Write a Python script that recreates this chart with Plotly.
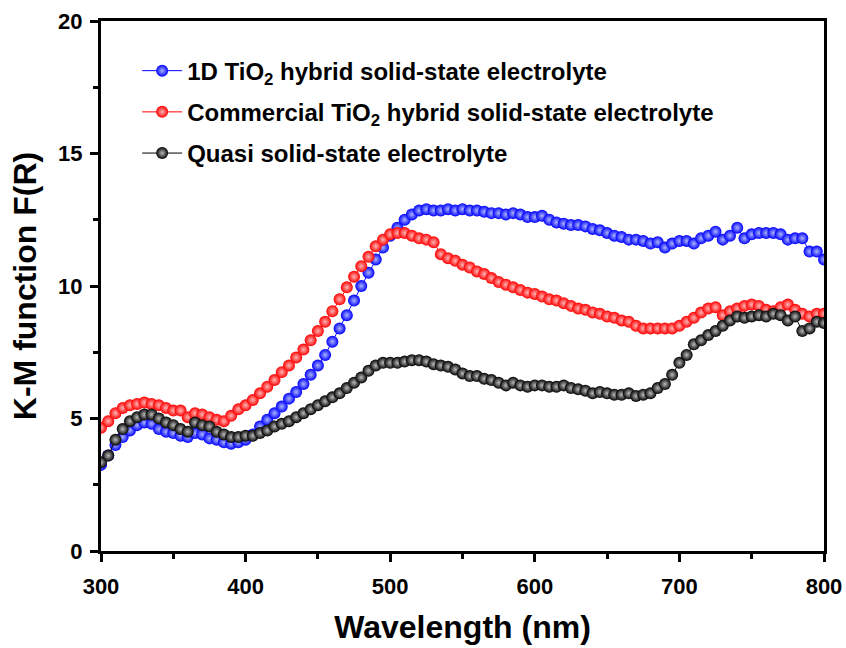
import plotly.graph_objects as go

wavelength = list(range(300, 801, 5))

tio2_1d = [3.25, 3.6, 4.0, 4.3, 4.55, 4.75, 4.85, 4.8, 4.6, 4.5,
           4.45, 4.35, 4.3, 4.45, 4.4, 4.25, 4.2, 4.1, 4.05, 4.1,
           4.2, 4.4, 4.7, 4.95, 5.2, 5.45, 5.75, 6.0, 6.3, 6.65,
           7.0, 7.4, 7.9, 8.4, 8.9, 9.45, 10.0, 10.5, 11.0, 11.45,
           11.9, 12.2, 12.5, 12.7, 12.85, 12.9, 12.85, 12.85, 12.9, 12.85,
           12.9, 12.85, 12.85, 12.8, 12.75, 12.75, 12.7, 12.75, 12.7, 12.6,
           12.6, 12.65, 12.5, 12.4, 12.35, 12.3, 12.3, 12.25, 12.15, 12.1,
           12.0, 11.9, 11.85, 11.75, 11.75, 11.7, 11.6, 11.65, 11.45, 11.6,
           11.7, 11.7, 11.6, 11.8, 11.9, 12.05, 11.75, 11.9, 12.2, 11.8,
           11.95, 12.0, 12.0, 12.0, 11.95, 11.75, 11.8, 11.8, 11.3, 11.3,
           11.0]

commercial = [4.65, 4.9, 5.2, 5.4, 5.5, 5.55, 5.6, 5.55, 5.5, 5.4,
              5.3, 5.3, 5.05, 5.2, 5.15, 5.05, 4.95, 4.9, 5.1, 5.35,
              5.5, 5.7, 5.95, 6.2, 6.45, 6.75, 7.0, 7.3, 7.6, 7.95,
              8.3, 8.65, 9.05, 9.5, 9.95, 10.35, 10.75, 11.1, 11.5, 11.75,
              11.95, 12.0, 12.0, 11.9, 11.8, 11.75, 11.65, 11.2, 11.05, 10.95,
              10.8, 10.7, 10.55, 10.45, 10.3, 10.15, 10.05, 9.95, 9.85, 9.75,
              9.7, 9.6, 9.5, 9.45, 9.35, 9.25, 9.15, 9.1, 9.0, 8.95,
              8.85, 8.8, 8.7, 8.65, 8.5, 8.4, 8.4, 8.4, 8.4, 8.4,
              8.5, 8.65, 8.8, 9.0, 9.15, 9.2, 8.9, 9.05, 9.15, 9.25,
              9.3, 9.25, 9.1, 9.05, 9.2, 9.3, 9.1, 8.95, 8.85, 8.95,
              8.95]

quasi = [3.35, 3.6, 4.2, 4.6, 4.9, 5.05, 5.15, 5.15, 5.0, 4.85,
         4.75, 4.6, 4.5, 4.85, 4.75, 4.7, 4.5, 4.4, 4.3, 4.3,
         4.35, 4.35, 4.45, 4.55, 4.7, 4.8, 4.9, 5.05, 5.2, 5.35,
         5.5, 5.65, 5.8, 5.95, 6.15, 6.35, 6.55, 6.8, 7.0, 7.1,
         7.1, 7.1, 7.15, 7.2, 7.2, 7.15, 7.05, 7.0, 6.95, 6.85,
         6.7, 6.6, 6.6, 6.5, 6.45, 6.35, 6.25, 6.35, 6.25, 6.2,
         6.25, 6.25, 6.2, 6.2, 6.25, 6.15, 6.1, 6.05, 5.95, 6.0,
         5.95, 5.9, 5.9, 5.95, 5.85, 5.9, 5.95, 6.15, 6.3, 6.65,
         7.1, 7.4, 7.8, 7.95, 8.15, 8.3, 8.5, 8.7, 8.85, 8.8,
         8.85, 8.9, 8.85, 8.95, 8.9, 8.7, 8.85, 8.3, 8.4, 8.65,
         8.6]

series_names = ["1D TiO<sub>2</sub> hybrid solid-state electrolyte",
                "Commercial TiO<sub>2</sub> hybrid solid-state electrolyte",
                "Quasi solid-state electrolyte"]
series_colors = ["#0000ff", "#ff0000", "#000000"]
series_highlight = ["#aab4ff", "#ffb4b4", "#bbbbbb"]
series_values = [tio2_1d, commercial, quasi]

x_ticks = [300, 400, 500, 600, 700, 800]
y_ticks = [0, 5, 10, 15, 20]

FONT = "Liberation Sans"

fig = go.Figure()
for i, (name, col, hl, vals) in enumerate(zip(series_names, series_colors, series_highlight, series_values)):
    fig.add_trace(go.Scatter(
        x=wavelength, y=vals, name=name, mode="lines+markers",
        legendgroup=f"g{i}",
        line=dict(color=col, width=1),
        marker=dict(size=12, color=col, line=dict(width=0),
                    gradient=dict(type="radial", color=hl)),
    ))

axis_common = dict(
    showline=True, linecolor="black", linewidth=3, mirror=True,
    ticks="outside", ticklen=8, tickwidth=3, tickcolor="black",
    showgrid=False, zeroline=False,
    tickfont=dict(family=FONT, size=22, color="black", weight="bold"),
)

fig.update_layout(
    width=846, height=648,
    margin=dict(l=101, r=22, t=21, b=97, autoexpand=False),
    plot_bgcolor="white", paper_bgcolor="white",
    xaxis=dict(range=[300, 800], tickvals=x_ticks, ticklabelstandoff=6,
               minor=dict(dtick=50, ticks="outside", ticklen=5, tickwidth=2.5, tickcolor="black"),
               title=dict(text="Wavelength (nm)", standoff=18,
                          font=dict(family=FONT, size=32, color="black", weight="bold")),
               **axis_common),
    yaxis=dict(range=[0, 20], tickvals=y_ticks, ticklabelstandoff=3,
               minor=dict(dtick=2.5, ticks="outside", ticklen=5, tickwidth=2.5, tickcolor="black"),
               title=dict(text="K-M function F(R)", standoff=12,
                          font=dict(family=FONT, size=32, color="black", weight="bold")),
               **axis_common),
    legend=dict(x=0.05, y=0.948, xanchor="left", yanchor="top",
                bgcolor="rgba(0,0,0,0)", tracegroupgap=7,
                font=dict(family=FONT, size=24, color="black", weight="bold"),
                itemwidth=40),
    showlegend=True,
)

fig.write_html("out.html")
